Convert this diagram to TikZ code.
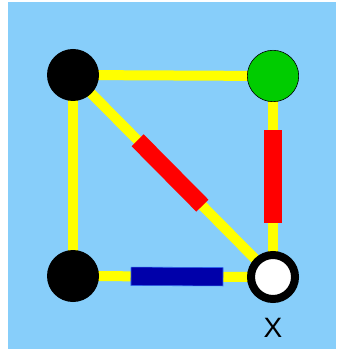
\documentclass[tikz,border=0pt]{standalone}
\usepackage{fontspec}
\setmainfont{Liberation Sans}
\usetikzlibrary{backgrounds}
\definecolor{skybg}{HTML}{87CEFA}
\definecolor{edgeyellow}{HTML}{FFFF00}
\definecolor{vertgreen}{HTML}{00CC00}
\definecolor{barred}{HTML}{FF0000}
\definecolor{barblue}{HTML}{0000AA}
\definecolor{barblueline}{HTML}{3366EE}

\begin{document}
\begin{tikzpicture}[
  x=1pt,y=-1pt,
  vert/.style={circle,inner sep=0pt,minimum size=52pt,fill=black},
  edge/.style={line width=10pt,edgeyellow},
  bar/.style={rectangle,sloped,inner sep=0pt,minimum width=92pt,minimum height=17pt},
]
\useasboundingbox (0,0) rectangle (336,352);
% vertices
\node[vert] (tl) at (73,75) {};
\node[vert,fill=vertgreen,draw=black,line width=0.6pt,minimum size=51.4pt] (tr) at (273,76) {};
\node[vert] (bl) at (73,276) {};
\node[vert,fill=white,draw=black,line width=8pt,minimum size=44pt] (br) at (273,277) {};
\node[font=\fontsize{28}{30}\selectfont] (xlab) at (273,328) {X};
% background and edges
\begin{scope}[on background layer]
  \fill[skybg] (8,2) rectangle (336,349);
  \draw[edge] (tl.center)--(tr.center); \draw[edge] (tl.center)--(bl.center);
  \draw[edge] (tl.center)--(br.center);
  \draw[edge] (tr.center)--(br.center); \draw[edge] (bl.center)--(br.center);
\end{scope}
% coloured bars
\path (tl.center)--(br.center) node[bar,pos=0.485,fill=barred] (diagbar) {};
\path (tr.center)--(br.center) node[bar,pos=0.5,fill=barred,minimum height=18pt] (rightbar) {};
\path (bl.center)--(br.center) node[bar,pos=0.52,fill=barblue,draw=barblueline,line width=0.6pt,minimum height=18.4pt] (bottombar) {};
\end{tikzpicture}
\end{document}
